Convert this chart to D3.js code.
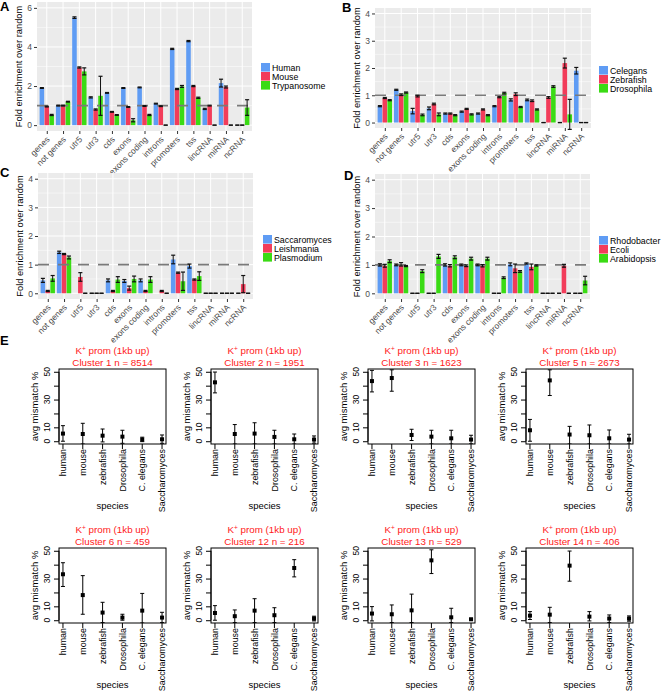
<!DOCTYPE html>
<html><head><meta charset="utf-8">
<script src="https://cdn.jsdelivr.net/npm/d3@7"></script>
<style>
body{margin:0;background:#fff}
svg{display:block}
text{font-family:"Liberation Sans",Arial,Helvetica,sans-serif}
</style>
</head><body>
<svg id="chart" width="662" height="695"></svg>
<script>
// ---------------- DATA ----------------
const categories = ["genes","not genes","utr5","utr3","cds","exons","exons coding","introns","promoters","tss","lincRNA","miRNA","ncRNA"];

// Panel A
const namesA = ["Human","Mouse","Trypanosome"];
const humanA      = [1.90,1.00,5.50,1.42,1.65,1.90,1.93,1.10,3.90,4.30,0.83,2.15,0];
const mouseA      = [0.95,1.00,2.95,0.80,0.68,0.93,0.98,0.97,1.85,2.00,1.00,1.95,0];
const trypanosomeA= [0.52,1.20,2.75,1.50,0.52,0.25,0.52,0,   1.98,1.40,0,   0,   0.90];
const humanAErr      = [.02,.02,.04,.03,.02,.02,.02,.02,.03,.03,.03,.20,0];
const mouseAErr      = [.02,.02,.03,.03,.02,.02,.02,.02,.03,.03,.02,.05,0];
const trypanosomeAErr= [.03,.02,.18,1.0,.02,.08,.03,0,  .05,.03,0,  0,  .40];

// Panel B
const namesB = ["Celegans","Zebrafish","Drosophila"];
const celegansB   = [0.60,1.20,0.42,0.52,0.33,0.40,0.33,0.60,0.83,0.83,0,   0,   1.90];
const zebrafishB  = [0.90,1.02,0.97,0.68,0.33,0.50,0.48,0.93,1.04,0.80,0.92,2.18,0];
const drosophilaB = [0.82,1.10,0.28,0.30,0.27,0.30,0.27,1.08,0.57,0.48,1.32,0.30,0];
const celegansBErr   = [.02,.02,.10,.05,.02,.02,.02,.02,.04,.03,0,  0,  .12];
const zebrafishBErr  = [.02,.03,.03,.03,.02,.02,.02,.02,.05,.03,.03,.18,0];
const drosophilaBErr = [.02,.02,.03,.05,.02,.02,.02,.03,.02,.02,.03,.55,0];

// Panel C
const namesC = ["Saccaromyces","Leishmania","Plasmodium"];
const saccaromycesC = [0.45,1.43,null,0,0.45,0.43,0.45,null,1.18,0.95,0,0,0];
const leishmaniaC   = [0.08,1.37,0.57,0,0.08,0.18,0.08,0.08,0.72,0.48,0,0,0.32];
const plasmodiumC   = [0.52,1.25,0,   0,0.48,0.50,0.48,0,   0.42,0.60,0,0,0];
const saccaromycesCErr = [.07,.04,0,  0,.05,.05,.05,0,  .15,.07,0,0,0];
const leishmaniaCErr   = [.02,.02,.15,0,.02,.07,.02,.02,.02,.02,0,0,.30];
const plasmodiumCErr   = [.10,.05,0,  0,.10,.10,.10,0,  .32,.15,0,0,0];

// Panel D
const namesD = ["Rhodobacter","Ecoli","Arabidopsis"];
const rhodobacterD = [1.00,1.00,0,   0,   1.00,1.00,1.00,0,   1.02,1.05,0,0,   0];
const ecoliD       = [0.97,1.02,0,   0,   0.97,0.97,0.97,0,   0.88,0.93,0,0.97,0];
const arabidopsisD = [1.13,0.96,0.78,1.30,1.27,1.22,1.22,0.55,0.77,0.98,0,0,   0.45];
const rhodobacterDErr = [.04,.03,0,  0,  .04,.03,.03,0,  .05,.02,0,0,  0];
const ecoliDErr       = [.05,.06,0,  0,  .04,.03,.04,0,  .15,.10,0,.05,0];
const arabidopsisDErr = [.05,.02,.05,.07,.05,.05,.05,.03,.03,.02,0,0,  .15];

const seriesColors = ["#5f9cf4","#f23c5a","#3adb14"];

// Panel E
const species = ["human","mouse","zebrafish","Drosophila","C. elegans","Saccharomyces"];
const clusterLabels = ["Cluster 1 n = 8514","Cluster 2 n = 1951","Cluster 3 n = 1623","Cluster 5 n = 2673",
                       "Cluster 6 n = 459","Cluster 12 n = 216","Cluster 13 n = 529","Cluster 14 n = 406"];
const clusterMean = [
  [5.5, 5.2, 4.0, 3.3, 1.2, 1.4],
  [42.4,5.2, 5.5, 3.1, 1.4, 1.2],
  [43.3,45.5,4.5, 3.3, 2.1, 1.2],
  [7.9, 43.8,4.8, 4.3, 2.1, 1.2],
  [33.1,18.1,5.5, 1.9, 6.9, 1.9],
  [5.2, 2.9, 6.9, 3.6, 37.6,1.2],
  [4.8, 4.3, 7.1, 43.1,2.1, 0.7],
  [3.3, 4.0, 39.3,2.6, 1.2, 1.2]
];
const clusterLow = [
  [0,   -2,  -0.5,-1.5,-0.3,-1.5],
  [34.8,-2,  -2,  -2,  -2,  -1.4],
  [35.5,36,  0.5, -2,  -2,  -1.9],
  [0,   32.9,-2,  -2,  -2,  -2],
  [24.3,4.3, -1.7,0,   -2,  -1.7],
  [0,   -1.7,-1.7,-1.7,31.2,-0.5],
  [-0.5,-1.7,-1.7,33.6,-1.7,0.2],
  [0.5, -1.7,28.1,-0.5,-1.7,-0.7]
];
const clusterHigh = [
  [11.2,12.9,8.8, 7.9, 2.9, 4.5],
  [49.8,12.0,13.3,7.9, 5.2, 3.8],
  [51,  51.4,8.6, 7.9, 7.9, 4.3],
  [15.7,51.4,10.7,11.7,8.1, 5.0],
  [41.4,32.1,12.9,4.3, 19.3,5.7],
  [10.5,7.4, 15.5,9.0, 43.6,2.9],
  [9.8, 11.0,18.8,50.7,8.6, 1.2],
  [6.2, 9.3, 49.8,6.2, 3.8, 3.1]
];
const yTicksE = [0,10,20,30,40,50];
const yLabelsE = [0,10,30,50];

// ---------------- DRAW ----------------
const svg = d3.select("#chart");

function letter(t, x, y){
  svg.append("text").attr("x",x).attr("y",y).attr("font-size",13).attr("font-weight","bold").text(t);
}

function barPanel(cfg){
  const g = svg.append("g");
  const x = d3.scalePoint().domain(categories).range([cfg.left, cfg.right]).padding(0.6);
  const step = x.step();
  const y = d3.scaleLinear().domain([-0.05*cfg.ymax, 1.05*cfg.ymax]).range([cfg.bottom, cfg.top]);
  g.append("rect").attr("x",cfg.left).attr("y",cfg.top).attr("width",cfg.right-cfg.left)
    .attr("height",cfg.bottom-cfg.top).attr("fill","#ebebeb");
  const majors = d3.range(0, cfg.ymax + 0.001, cfg.majorStep);
  const minors = d3.range(cfg.majorStep/2, cfg.ymax + 0.2, cfg.majorStep).filter(v => y(v) > cfg.top);
  g.selectAll(".mn").data(minors).join("line").attr("x1",cfg.left).attr("x2",cfg.right)
    .attr("y1",d=>y(d)).attr("y2",d=>y(d)).attr("stroke","#fff").attr("stroke-width",0.5);
  g.selectAll(".mj").data(majors).join("line").attr("x1",cfg.left).attr("x2",cfg.right)
    .attr("y1",d=>y(d)).attr("y2",d=>y(d)).attr("stroke","#fff").attr("stroke-width",1);
  g.selectAll(".vx").data(categories).join("line").attr("x1",d=>x(d)).attr("x2",d=>x(d))
    .attr("y1",cfg.top).attr("y2",cfg.bottom).attr("stroke","#fff").attr("stroke-width",1);

  const offsets = [-0.3, 0, 0.3];
  const bw = 0.28*step;
  cfg.values.forEach((vals, si) => {
    g.selectAll(null).data(vals.map((v,i)=>({v,i})).filter(d=>d.v!==null && d.v>0)).join("rect")
      .attr("x", d => x(categories[d.i]) + offsets[si]*step - bw/2)
      .attr("width", bw)
      .attr("y", d => y(d.v))
      .attr("height", d => y(0) - y(d.v))
      .attr("fill", seriesColors[si]);
  });
  g.append("line").attr("x1",cfg.left).attr("x2",cfg.right).attr("y1",y(1)).attr("y2",y(1))
    .attr("stroke","#7a7a7a").attr("stroke-width",1.6).attr("stroke-dasharray","11,9");
  const cw = 0.25*step;
  cfg.values.forEach((vals, si) => {
    const errs = cfg.errs[si];
    vals.forEach((v,i) => {
      if (v === null) return;
      const cx = x(categories[i]) + offsets[si]*step;
      const e = errs[i];
      const lo = y(v - e), hi = y(v + e);
      g.append("line").attr("x1",cx).attr("x2",cx).attr("y1",lo).attr("y2",hi)
        .attr("stroke","#111").attr("stroke-width",1);
      [lo,hi].forEach(yy => g.append("line").attr("x1",cx-cw/2).attr("x2",cx+cw/2)
        .attr("y1",yy).attr("y2",yy).attr("stroke","#111").attr("stroke-width",1.2));
    });
  });
  const ya = g.append("g").attr("transform",`translate(${cfg.left},0)`)
    .call(d3.axisLeft(y).tickValues(majors).tickSize(3).tickPadding(2).tickFormat(d3.format("d")));
  ya.select(".domain").remove();
  ya.selectAll("line").attr("stroke","#333");
  ya.selectAll("text").attr("font-size",8.5).attr("fill","#4d4d4d").attr("font-family",null);
  const xa = g.append("g").attr("transform",`translate(0,${cfg.bottom})`)
    .call(d3.axisBottom(x).tickSize(3).tickPadding(2));
  xa.select(".domain").remove();
  xa.selectAll("line").attr("stroke","#333");
  xa.selectAll("text").attr("font-size",8.5).attr("fill","#4d4d4d").attr("font-family",null)
    .attr("text-anchor","end").attr("dy",null).attr("y",null)
    .attr("transform","translate(3,9) rotate(-45)");
  g.append("text").attr("transform",`translate(${cfg.titleX},${(cfg.top+cfg.bottom)/2}) rotate(-90)`)
    .attr("text-anchor","middle").attr("font-size",9.3).text("Fold enrichment over random");
  cfg.names.forEach((n,i) => {
    g.append("rect").attr("x",cfg.legX).attr("y",cfg.legY + i*9).attr("width",9).attr("height",8.6)
      .attr("fill",seriesColors[i]);
    g.append("text").attr("x",cfg.legX+11).attr("y",cfg.legY + i*9 + 4.5).attr("dy","0.35em")
      .attr("font-size",8.8).text(n);
  });
}

letter("A", 0, 11);
barPanel({left:37,right:252,top:2,bottom:131,ymax:6,majorStep:2,titleX:22,
  values:[humanA,mouseA,trypanosomeA],errs:[humanAErr,mouseAErr,trypanosomeAErr],
  names:namesA,legX:261,legY:63});
letter("B", 342, 12);
barPanel({left:375,right:591,top:8,bottom:128,ymax:4,majorStep:1,titleX:360,
  values:[celegansB,zebrafishB,drosophilaB],errs:[celegansBErr,zebrafishBErr,drosophilaBErr],
  names:namesB,legX:599,legY:66});
letter("C", 0, 177);
barPanel({left:38,right:253,top:173,bottom:299,ymax:4,majorStep:1,titleX:23,
  values:[saccaromycesC,leishmaniaC,plasmodiumC],errs:[saccaromycesCErr,leishmaniaCErr,plasmodiumCErr],
  names:namesC,legX:263,legY:235});
letter("D", 344, 180);
barPanel({left:375,right:590,top:174,bottom:299,ymax:4,majorStep:1,titleX:360,
  values:[rhodobacterD,ecoliD,arabidopsisD],errs:[rhodobacterDErr,ecoliDErr,arabidopsisDErr],
  names:namesD,legX:599,legY:236});

letter("E", 0, 345);

// ---- Panel E ----
const boxLefts = [59, 211, 368, 526];
const boxTops = [369, 548];
const BW = 107, BH = 75;
clusterLabels.forEach((lab, ci) => {
  const col = ci % 4, row = Math.floor(ci / 4);
  const L = boxLefts[col], T = boxTops[row];
  const g = svg.append("g");
  const x = d3.scaleLinear().domain([0.8, 6.2]).range([L, L+BW]);
  const y = d3.scaleLinear().domain([-2, 52]).range([T+BH, T]);
  const clipId = "clip"+ci;
  g.append("clipPath").attr("id",clipId).append("rect").attr("x",L).attr("y",T).attr("width",BW).attr("height",BH);
  const t1 = g.append("text").attr("x",L+BW/2).attr("y",T-15).attr("text-anchor","middle")
    .attr("font-size",9.8).attr("fill","#ff1a1a");
  t1.append("tspan").text("K");
  t1.append("tspan").attr("font-size",6.5).attr("dy",-3.5).text("+");
  t1.append("tspan").attr("dy",3.5).text(" prom (1kb up)");
  g.append("text").attr("x",L+BW/2).attr("y",T-3.5).attr("text-anchor","middle")
    .attr("font-size",9.8).attr("fill","#ff1a1a").text(lab);
  g.append("rect").attr("x",L).attr("y",T).attr("width",BW).attr("height",BH)
    .attr("fill","none").attr("stroke","#000").attr("stroke-width",1);
  const ya = g.append("g").attr("transform",`translate(${L},0)`)
    .call(d3.axisLeft(y).tickValues(yTicksE).tickSize(5).tickFormat(()=>""));
  ya.select(".domain").attr("d",`M0,${y(0)}V${y(50)}`).attr("stroke","#000");
  ya.selectAll("line").attr("stroke","#000");
  yLabelsE.forEach(v => g.append("text")
    .attr("transform",`translate(${L-12},${y(v)}) rotate(-90)`).attr("text-anchor","middle")
    .attr("dy","0.35em").attr("font-size",8.5).text(v));
  species.forEach((s,i) => {
    g.append("line").attr("x1",x(i+1)).attr("x2",x(i+1)).attr("y1",T+BH).attr("y2",T+BH+5).attr("stroke","#000");
    g.append("text").attr("transform",`translate(${x(i+1)},${T+BH+5}) rotate(-90)`)
      .attr("text-anchor","end").attr("dy","0.35em").attr("font-size",8.9).text(s);
  });
  g.append("text").attr("transform",`translate(${L-24},${T+BH/2}) rotate(-90)`).attr("text-anchor","middle")
    .attr("dy","0.35em").attr("font-size",9.5).text("avg mismatch %");
  g.append("text").attr("x",L+BW/2).attr("y",T+BH+65).attr("text-anchor","middle")
    .attr("font-size",9.5).text("species");
  const eg = g.append("g").attr("clip-path",`url(#${clipId})`);
  species.forEach((s,i) => {
    const cx = x(i+1);
    const lo = y(clusterLow[ci][i]), hi = y(clusterHigh[ci][i]);
    eg.append("line").attr("x1",cx).attr("x2",cx).attr("y1",lo).attr("y2",hi).attr("stroke","#000").attr("stroke-width",1);
    [lo,hi].forEach(yy => eg.append("line").attr("x1",cx-2).attr("x2",cx+2).attr("y1",yy).attr("y2",yy)
      .attr("stroke","#000").attr("stroke-width",1));
    eg.append("rect").attr("x",cx-2).attr("y",y(clusterMean[ci][i])-2).attr("width",4).attr("height",4).attr("fill","#000");
  });
});
</script>
</body></html>
